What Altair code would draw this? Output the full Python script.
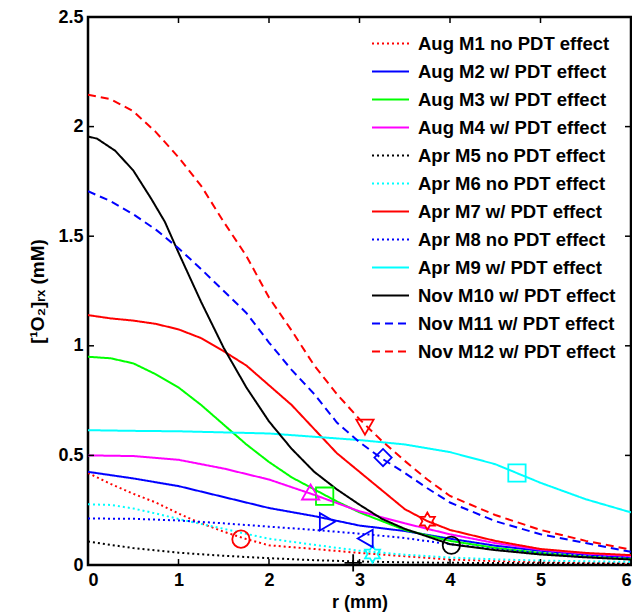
import math
import altair as alt
import pandas as pd

# ---------------- data ----------------
names = [
    "Aug M1 no PDT effect", "Aug M2 w/ PDT effect", "Aug M3 w/ PDT effect",
    "Aug M4 w/ PDT effect", "Apr M5 no PDT effect", "Apr M6 no PDT effect",
    "Apr M7 w/ PDT effect", "Apr M8 no PDT effect", "Apr M9 w/ PDT effect",
    "Nov M10 w/ PDT effect", "Nov M11 w/ PDT effect", "Nov M12 w/ PDT effect",
]
colors = ["#ff0000", "#0000ff", "#00ff00", "#ff00ff", "#000000", "#00ffff",
          "#ff0000", "#0000ff", "#00ffff", "#000000", "#0000ff", "#ff0000"]
styles = ["dot", "solid", "solid", "solid", "dot", "dot",
          "solid", "dot", "solid", "solid", "dash", "dash"]

r_half = [0, 0.5, 1, 1.5, 2, 2.5, 3, 3.5, 4, 4.5, 5, 5.5, 6]
r_q17 = [0, 0.25, 0.5, 0.75, 1, 1.25, 1.5, 1.75, 2, 2.5, 3, 3.5, 4, 4.5, 5, 5.5, 6]
r_q21 = [0, 0.25, 0.5, 0.75, 1, 1.25, 1.5, 1.75, 2, 2.25, 2.5, 2.75, 3, 3.25,
         3.5, 3.75, 4, 4.5, 5, 5.5, 6]
r_m3 = [0, 0.25, 0.5, 0.75, 1, 1.25, 1.5, 1.75, 2, 2.25, 2.5, 2.75, 3, 3.5,
        4, 4.5, 5, 5.5, 6]
r_m10 = [0, 0.1, 0.3, 0.5, 0.7, 0.85, 1, 1.25, 1.5, 1.75, 2, 2.25, 2.5, 2.75,
         3, 3.25, 3.5, 4, 4.5, 5, 5.5, 6]

y_m1 = [0.42, 0.37, 0.325, 0.285, 0.235, 0.19, 0.152, 0.118, 0.09, 0.073,
        0.055, 0.04, 0.025, 0.018, 0.013, 0.01, 0.008]
y_m2 = [0.425, 0.395, 0.36, 0.31, 0.26, 0.223, 0.18, 0.155, 0.12, 0.088,
        0.065, 0.048, 0.035]
y_m3 = [0.95, 0.943, 0.92, 0.87, 0.81, 0.73, 0.64, 0.55, 0.47, 0.4, 0.345,
        0.29, 0.24, 0.16, 0.11, 0.078, 0.055, 0.038, 0.028]
y_m4 = [0.5, 0.497, 0.48, 0.44, 0.39, 0.32, 0.245, 0.19, 0.14, 0.1, 0.07,
        0.052, 0.04]
y_m5 = [0.107, 0.077, 0.056, 0.042, 0.031, 0.022, 0.016, 0.012, 0.01, 0.009,
        0.008, 0.007, 0.006]
y_m6 = [0.277, 0.274, 0.258, 0.235, 0.21, 0.187, 0.165, 0.142, 0.12, 0.092,
        0.065, 0.047, 0.034, 0.026, 0.02, 0.017, 0.014]
y_m7 = [1.14, 1.125, 1.115, 1.1, 1.075, 1.035, 0.975, 0.91, 0.82, 0.73, 0.62,
        0.51, 0.425, 0.34, 0.255, 0.2, 0.16, 0.11, 0.073, 0.055, 0.045]
y_m8 = [0.212, 0.211, 0.203, 0.19, 0.175, 0.16, 0.143, 0.123, 0.095, 0.072,
        0.055, 0.042, 0.032]
y_m9 = [0.615, 0.612, 0.61, 0.605, 0.6, 0.585, 0.57, 0.55, 0.515, 0.46,
        0.375, 0.3, 0.24]
y_m10 = [1.955, 1.945, 1.89, 1.8, 1.67, 1.565, 1.425, 1.2, 0.99, 0.81, 0.655,
         0.53, 0.425, 0.345, 0.275, 0.21, 0.165, 0.095, 0.068, 0.048, 0.035,
         0.025]
y_m11 = [1.705, 1.66, 1.6, 1.53, 1.445, 1.35, 1.25, 1.15, 1.015, 0.89, 0.78,
         0.65, 0.56, 0.485, 0.42, 0.35, 0.285, 0.2, 0.14, 0.1, 0.06]
y_m12 = [2.145, 2.125, 2.07, 1.975, 1.86, 1.73, 1.565, 1.41, 1.22, 1.07, 0.91,
         0.78, 0.665, 0.565, 0.475, 0.39, 0.315, 0.228, 0.16, 0.11, 0.07]

series_r = [r_q17, r_half, r_m3, r_half, r_half, r_q17, r_q21, r_half, r_half,
            r_m10, r_q21, r_q21]
series_y = [y_m1, y_m2, y_m3, y_m4, y_m5, y_m6, y_m7, y_m8, y_m9, y_m10,
            y_m11, y_m12]

# one open marker per curve
mk_r = [1.69, 2.645, 2.615, 2.46, 2.93, 3.144, 3.75, 3.063, 4.74, 4.015, 3.26, 3.06]
mk_v = [0.118, 0.197, 0.314, 0.333, 0.01, 0.05, 0.2, 0.121, 0.42, 0.09, 0.49, 0.629]

x_ticks = [0, 1, 2, 3, 4, 5, 6]
y_ticks = [0, 0.5, 1, 1.5, 2, 2.5]

# ---------------- styling ----------------
dash_map = {"solid": [1, 0], "dot": [2, 3], "dash": [8, 5]}
dashes = [dash_map[s] for s in styles]


def star_path(n, r_in):
    pts = []
    for k in range(2 * n):
        ang = math.pi / 2 + k * math.pi / n
        rad = 1.0 if k % 2 == 0 else r_in
        pts.append((rad * math.cos(ang), -rad * math.sin(ang)))
    return "M" + "L".join(f"{x:.3f},{y:.3f}" for x, y in pts) + "Z"


HEXAGRAM = star_path(6, 1 / math.sqrt(3))
PLUS = "M-1,0L1,0M0,-1L0,1"
shapes = ["circle", "triangle-right", "square", "triangle-up", PLUS, HEXAGRAM,
          HEXAGRAM, "triangle-left", "square", "circle", "diamond", "triangle-down"]

rows = []
for nm, rs, ys in zip(names, series_r, series_y):
    for rv, yv in zip(rs, ys):
        rows.append({"series": nm, "r": rv, "value": yv})
df = pd.DataFrame(rows)
mk_df = pd.DataFrame({"series": names, "r": mk_r, "value": mk_v})
xt_df = pd.DataFrame({"r": x_ticks})
yt_df = pd.DataFrame({"value": y_ticks})

W, H = 543, 548
FONT = "Liberation Sans"

x_scale = alt.Scale(domain=[0, 6], nice=False, zero=False)
y_scale = alt.Scale(domain=[0, 2.5], nice=False, zero=False)

legend = alt.Legend(
    orient="none", legendX=292, legendY=16, title=None,
    symbolType="M-2,0L2,0", symbolSize=342, symbolStrokeWidth=2,
    labelFont=FONT, labelFontSize=18.5, labelFontWeight="bold",
    labelColor="black", labelLimit=400, labelOffset=17, rowPadding=8,
    padding=0,
)

x_axis = alt.Axis(values=x_ticks, format="~g", ticks=False, domain=False,
                  grid=False, labelFont=FONT, labelFontSize=18,
                  labelFontWeight="bold", labelColor="black", labelPadding=6,
                  title="r (mm)", titleFont=FONT, titleFontSize=18,
                  titleFontWeight="bold", titleColor="black", titlePadding=4)
y_axis = alt.Axis(values=y_ticks, format="~g", ticks=False, domain=False,
                  grid=False, labelFont=FONT, labelFontSize=18,
                  labelFontWeight="bold", labelColor="black", labelPadding=5,
                  title="[¹O₂]ᵣₓ (mM)", titleFont=FONT, titleFontSize=19,
                  titleFontWeight="bold", titleColor="black", titlePadding=10)

lines = alt.Chart(df).mark_line(strokeWidth=2, clip=True).encode(
    x=alt.X("r:Q", scale=x_scale, axis=x_axis),
    y=alt.Y("value:Q", scale=y_scale, axis=y_axis),
    color=alt.Color("series:N", scale=alt.Scale(domain=names, range=colors),
                    sort=names, legend=legend),
    strokeDash=alt.StrokeDash("series:N",
                              scale=alt.Scale(domain=names, range=dashes),
                              sort=names, legend=legend),
)

markers = alt.Chart(mk_df).mark_point(filled=False, size=300, strokeWidth=1.8,
                                      opacity=1).encode(
    x="r:Q",
    y="value:Q",
    shape=alt.Shape("series:N", scale=alt.Scale(domain=names, range=shapes),
                    legend=None),
    stroke=alt.Stroke("series:N", scale=alt.Scale(domain=names, range=colors),
                      legend=None),
)

tick_len = 6
bottom_ticks = alt.Chart(xt_df).mark_rule(color="black", strokeWidth=1.5).encode(
    x="r:Q", y=alt.value(H), y2=alt.value(H - tick_len))
top_ticks = alt.Chart(xt_df).mark_rule(color="black", strokeWidth=1.5).encode(
    x="r:Q", y=alt.value(0), y2=alt.value(tick_len))
left_ticks = alt.Chart(yt_df).mark_rule(color="black", strokeWidth=1.5).encode(
    y="value:Q", x=alt.value(0), x2=alt.value(tick_len))
right_ticks = alt.Chart(yt_df).mark_rule(color="black", strokeWidth=1.5).encode(
    y="value:Q", x=alt.value(W), x2=alt.value(W - tick_len))

chart = alt.layer(
    lines, markers, bottom_ticks, top_ticks, left_ticks, right_ticks
).resolve_scale(shape="independent").properties(
    width=W, height=H,
    autosize=alt.AutoSizeParams(type="none"),
    padding={"left": 80, "top": 9, "right": 1, "bottom": 48},
    background="white",
).configure(font=FONT).configure_view(stroke="black", strokeWidth=2.5)

chart.save("out.html", embed_options={"renderer": "svg", "actions": False})
